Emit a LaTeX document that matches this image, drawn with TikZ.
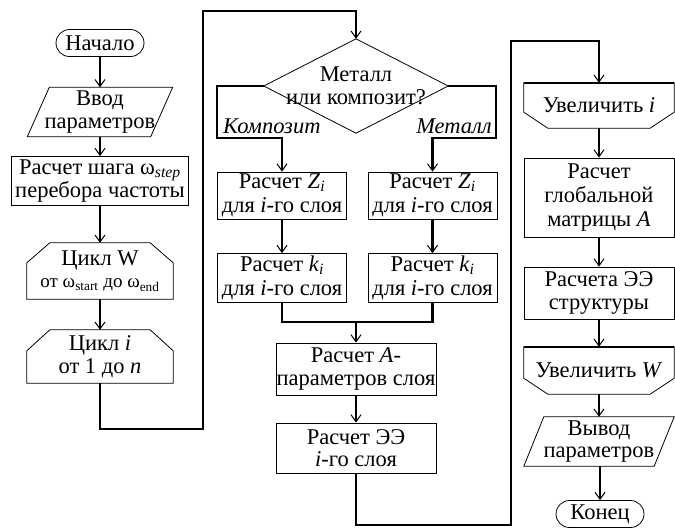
\documentclass[tikz,border=0pt]{standalone}
\usepackage{fontspec}
\setmainfont{LiberationSerif}[Extension=.ttf, UprightFont=*-Regular, ItalicFont=*-Italic, BoldFont=*-Bold, BoldItalicFont=*-BoldItalic]
\usetikzlibrary{arrows.meta}

\tikzset{
  blk/.style={draw, line width=0.8pt, minimum width=129, minimum height=47, inner sep=0pt, align=center},
  term/.style={draw, line width=0.8pt, rounded corners=13.5pt, minimum width=88, minimum height=27, inner sep=0pt},
  hold/.style={inner sep=0pt, align=center},
  outl/.style={line width=0.8pt},
  link/.style={line width=2.4pt},
  flow/.style={line width=2.4pt, -{Straight Barb[length=7pt,width=10pt,line width=1pt]}},
  lbl/.style={font=\fontsize{22.5}{22}\selectfont\itshape, inner sep=0pt}
}

\begin{document}
\begin{tikzpicture}[x=1pt,y=-1pt,font=\fontsize{22.5}{22.5}\selectfont]

\useasboundingbox (0,0) rectangle (675,528) ;

% left column
\node[term] (start) at (100,43) {Начало} ;
\node[hold, minimum width=145, minimum height=49] (input) at (100,112) {Ввод\\параметров} ;
\draw[outl] (input.south west) -- ([xshift=22pt]input.north west) -- (input.north east) -- ([xshift=-22pt]input.south east) -- cycle ;

\node[blk, minimum width=177, minimum height=49] (dstep) at (100,181) {Расчет шага ω\textsubscript{\textit{step}}\\перебора частоты} ;

\node[hold, minimum width=146, minimum height=56] (cycw) at (100,271) {Цикл W\\{\fontsize{19}{20}\selectfont от ω\textsubscript{start} до ω\textsubscript{end}}} ;
\draw[outl] ([yshift=-20pt]cycw.north west) -- ([xshift=23pt]cycw.north west) -- ([xshift=-23pt]cycw.north east) -- ([yshift=-20pt]cycw.north east) -- (cycw.south east) -- (cycw.south west) -- cycle ;

\node[hold, minimum width=146, minimum height=53] (cyci) at (100,356.5) {Цикл \textit{i}\\от 1 до \textit{n}} ;
\draw[outl] ([yshift=-21pt]cyci.north west) -- ([xshift=23pt]cyci.north west) -- ([xshift=-23pt]cyci.north east) -- ([yshift=-21pt]cyci.north east) -- (cyci.south east) -- (cyci.south west) -- cycle ;

% middle column
\node[hold, minimum width=184, minimum height=94] (dec) at (356,86) {Металл\\или композит?} ;
\draw[outl] (dec.north) -- (dec.east) -- (dec.south) -- (dec.west) -- cycle ;

\node[lbl, anchor=base west] (lcomp) at (223,133) {Композит} ;
\node[lbl, anchor=base east] (lmet) at (492,133) {Металл} ;

\node[blk] (zc) at (282,195.5) {Расчет \textit{Z\/}\textsubscript{\textit{i}}\\[2pt]для \textit{i}-го слоя} ;
\node[blk] (zm) at (432.5,195.5) {Расчет \textit{Z\/}\textsubscript{\textit{i}}\\[2pt]для \textit{i}-го слоя} ;
\node[blk, minimum height=49] (kc) at (282,278) {Расчет \textit{k\/}\textsubscript{\textit{i}}\\[2pt]для \textit{i}-го слоя} ;
\node[blk, minimum height=49] (km) at (432.5,278) {Расчет \textit{k\/}\textsubscript{\textit{i}}\\[2pt]для \textit{i}-го слоя} ;

\node[blk, minimum width=160, minimum height=52] (apar) at (356,369) {Расчет \textit{A}-\\параметров слоя} ;
\node[blk, minimum width=160, minimum height=50] (eel) at (356,448) {Расчет ЭЭ\\\textit{i}-го слоя} ;

% right column
\node[hold, minimum width=150, minimum height=45] (inci) at (599,105.5) {Увеличить \textit{i}} ;
\draw[outl] (inci.north west) -- (inci.north east) -- ([yshift=16pt]inci.south east) -- ([xshift=-24pt]inci.south east) -- ([xshift=24pt]inci.south west) -- ([yshift=16pt]inci.south west) -- cycle ;
\draw[link] (inci.north west) -- (inci.north east) ;

\node[blk, minimum width=150, minimum height=79, font=\fontsize{22.5}{24}\selectfont] (glob) at (599,197.5) {Расчет\\глобальной\\матрицы \textit{A}} ;
\node[blk, minimum width=150, minimum height=52] (eestr) at (599,293) {Расчета ЭЭ\\структуры} ;

\node[hold, minimum width=150, minimum height=47] (incw) at (599,370.5) {Увеличить \textit{W}} ;
\draw[outl] (incw.north west) -- (incw.north east) -- ([yshift=16pt]incw.south east) -- ([xshift=-24pt]incw.south east) -- ([xshift=24pt]incw.south west) -- ([yshift=16pt]incw.south west) -- cycle ;
\draw[link] (incw.north west) -- (incw.north east) ;

\node[hold, minimum width=150, minimum height=49] (outp) at (599,441.5) {Вывод\\параметров} ;
\draw[outl] (outp.south west) -- ([xshift=20pt]outp.north west) -- (outp.north east) -- ([xshift=-20pt]outp.south east) -- cycle ;

\node[term] (fin) at (600,514) {Конец} ;

% connectors
\coordinate (lpa) at (203,429) ;
\coordinate (lpb) at (203,11) ;
\coordinate (brl) at (217,138) ;
\coordinate (brr) at (496,138) ;
\coordinate (mrg) at (356,322) ;
\coordinate (rpa) at (511,525) ;
\coordinate (rpb) at (511,41) ;

\draw[flow] (start) -- (input) ;
\draw[flow] (input) -- (dstep) ;
\draw[flow] (dstep) -- (cycw) ;
\draw[flow] (cycw) -- (cyci) ;
\draw[flow] (cyci.south) |- (lpa) -- (lpb) -| (dec.north) ;

\draw[flow] (dec.west) -| (brl) -| (zc.north) ;
\draw[flow] (dec.east) -| (brr) -| (zm.north) ;
\draw[flow] (zc) -- (kc) ;
\draw[flow] (zm) -- (km) ;
\draw[link] (kc.south) |- (mrg) ;
\draw[link] (km.south) |- (mrg) ;
\draw[flow] (mrg) -- (apar) ;
\draw[flow] (apar) -- (eel) ;
\draw[flow] (eel.south) |- (rpa) -- (rpb) -| (inci.north) ;

\draw[flow] (inci) -- (glob) ;
\draw[flow] (glob) -- (eestr) ;
\draw[flow] (eestr) -- (incw) ;
\draw[flow] (incw) -- (outp) ;
\draw[flow] (outp.south -| fin) -- (fin) ;

\end{tikzpicture}
\end{document}
